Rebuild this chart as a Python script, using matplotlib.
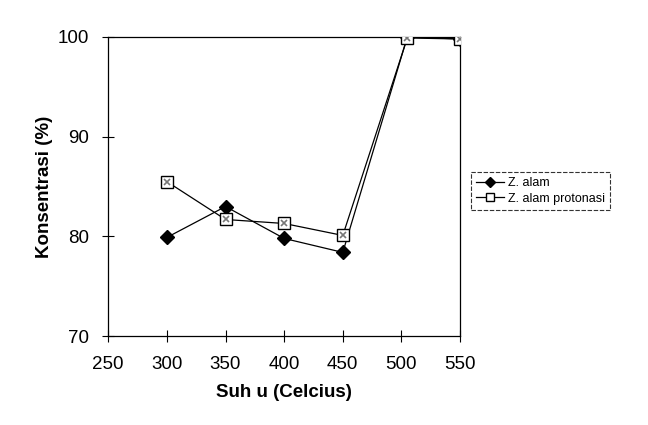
import matplotlib
matplotlib.use("Agg")
import matplotlib.pyplot as plt

plt.rcParams['font.family'] = ['Liberation Sans', 'DejaVu Sans']

suhu_alam = [300, 350, 400, 450, 505, 550]
konsentrasi_alam = [79.9, 83.0, 79.8, 78.4, 100.0, 99.8]
suhu_protonasi = [300, 350, 400, 450, 505, 550]
konsentrasi_protonasi = [85.5, 81.7, 81.3, 80.1, 99.9, 99.8]
xticks = [250, 300, 350, 400, 450, 500, 550]
yticks = [70, 80, 90, 100]

fig = plt.figure(figsize=(6.48, 4.25), dpi=100)
ax = fig.add_axes([0.167, 0.209, 0.543, 0.704])

ax.plot(suhu_alam, konsentrasi_alam, color='black', lw=0.9, marker='D',
        ms=7, mfc='black', mec='black', label='Z. alam', zorder=3)
ax.plot(suhu_protonasi, konsentrasi_protonasi, color='black', lw=0.9, marker='s',
        ms=8, mfc='white', mec='black', label='Z. alam protonasi', zorder=4)
ax.plot(suhu_protonasi, konsentrasi_protonasi, ls='none', marker='x', ms=4,
        mec='#777777', mew=1.2, zorder=5)

ax.set_xlim(250, 550)
ax.set_ylim(70, 100)
ax.set_xticks(xticks)
ax.set_yticks(yticks)
ax.tick_params(direction='inout', length=8, width=0.8, labelsize=13.5)
ax.tick_params(axis='x', pad=10)
ax.tick_params(axis='y', pad=10)
for s in ax.spines.values():
    s.set_linewidth(0.9)

ax.set_xlabel('Suh u (Celcius)', fontsize=13.5, fontweight='bold', labelpad=8)
ax.set_ylabel('Konsentrasi (%)', fontsize=13.5, fontweight='bold', labelpad=3)

leg = ax.legend(loc='upper left', bbox_to_anchor=(1.012, 0.57), fontsize=9,
                frameon=True, fancybox=False, edgecolor='black', handlelength=2.3,
                borderpad=0.4, labelspacing=0.3, handletextpad=0.3, markerscale=0.7)
leg.get_frame().set_linewidth(0.8)
leg.get_frame().set_linestyle((0, (4, 1.5)))

fig.savefig('out.png', dpi=100)
